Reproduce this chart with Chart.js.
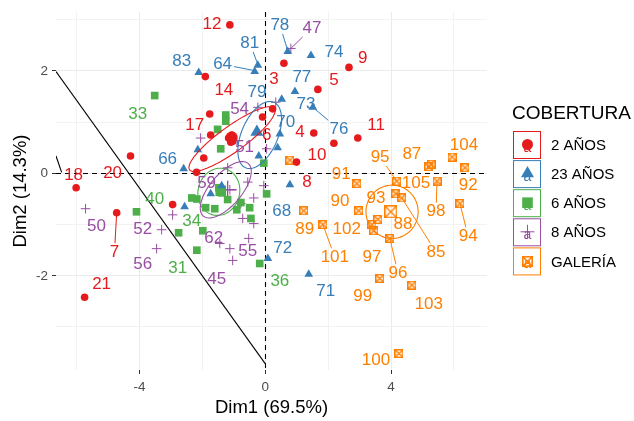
<!DOCTYPE html>
<html>
<head>
<meta charset="utf-8">
<script src="https://cdn.jsdelivr.net/npm/chart.js@4.4.1/dist/chart.umd.min.js"></script>
<style>
  html, body { margin: 0; padding: 0; background: #fff; }
  #wrap { width: 634px; height: 421px; }
</style>
</head>
<body>
<div id="wrap"><canvas id="pca" width="634" height="421"></canvas></div>
<script>
// Grupos (leyenda COBERTURA)
const grupos = ['2 AÑOS', '23 AÑOS', '6 AÑOS', '8 AÑOS', 'GALERÍA'];

// Coordenadas de los individuos [Dim1, Dim2]
const anos2 = [[-1.13,2.90],[-1.91,1.89],[-1.77,1.16],[-1.74,0.75],[-1.17,0.69],[-1.07,0.75],[-1.04,0.63],[-1.10,0.61],
  [-0.09,1.10],[-1.96,0.30],[-2.19,0.02],[-4.29,0.34],[0.59,2.15],[2.66,2.07],[1.67,1.64],[0.23,1.26],[1.54,0.79],
  [2.18,0.59],[2.94,0.69],[0.99,0.22],[-6.02,-0.28],[-4.73,-0.77],[-5.75,-2.42],[-2.95,-0.61]];
const anos23 = [[-2.12,1.97],[-0.24,2.11],[-0.34,1.99],[-0.27,0.81],[-2.15,0.46],[-2.60,0.09],[-0.21,0.34],[0.71,2.38],
  [1.45,2.30],[0.94,1.60],[0.52,1.45],[1.51,1.29],[0.46,0.77],[0.39,0.50],[-2.57,-0.65],[-1.74,-0.40],[-1.39,-0.24],
  [0.78,-0.22],[0.08,-1.66],[1.38,-1.97]];
const anos6 = [[-3.52,1.52],[-1.26,1.14],[-1.26,1.02],[-1.52,0.86],[-1.42,0.48],[-0.05,0.20],[-4.10,-0.75],[-2.76,-1.16],
  [-1.99,-1.12],[-2.18,-1.50],[-2.34,-0.48],[-2.18,-0.50],[-1.90,-0.67],[-1.61,-0.69],[-1.48,-0.28],[-1.39,-0.38],
  [-1.20,-0.51],[-0.91,-0.71],[-0.78,-0.57],[-0.50,-0.67],[-0.46,-0.88],[-0.18,-1.76],[0.04,-0.40]];
const anos8 = [[0.81,2.44],[-2.06,0.69],[-0.24,1.29],[0.33,1.39],[0.04,0.48],[-1.20,0.11],[-0.56,-0.17],[-0.05,-0.24],
  [-1.13,-0.32],[-0.37,-0.48],[-0.78,-0.59],[-0.72,-0.88],[-0.37,-0.98],[-0.53,-1.27],[-1.45,-1.37],[-1.13,-1.47],
  [-1.04,-1.70],[-5.72,-0.69],[-2.95,-0.81],[-3.30,-1.10],[-3.46,-1.47]];
const galeria = [[0.78,0.26],[5.20,0.13],[5.27,0.18],[5.94,0.32],[6.35,0.11],[2.91,-0.20],[2.97,-0.73],[1.22,-0.73],
  [1.83,-1.00],[4.18,-0.15],[4.15,-0.40],[4.34,-0.48],[3.58,-0.90],[3.39,-1.00],[3.45,-1.12],[3.96,-1.27],[5.46,-0.15],
  [6.19,-0.59],[3.64,-2.05],[4.66,-2.18],[4.25,-3.52]];

// Centros de grupo (puntos grandes)
const medias = [[-1.07,0.70],[-0.27,0.81],[-1.42,-0.34],[-1.20,-0.32],[3.99,-0.75]];

// Elipses de concentración: centro, semieje 1, semieje 2 (en unidades Dim)
const elipses = [
  [[-1.06,0.67],[1.35,0.60],[0.24,-0.20]],
  [[-0.18,0.75],[0.45,0.64],[0.53,-0.14]],
  [[-1.48,-0.36],[0.19,0.45],[0.64,-0.10]],
  [[-1.26,-0.32],[0.70,0.52],[0.41,-0.18]],
  [[4.03,-0.75],[0.83,0.00],[0.00,0.52]]
];

// Etiquetas: [texto, x, y, (x,y del punto si tiene línea guía)]
const etiq2 = [['12',-1.70,2.92],['14',-1.32,1.62],['17',-2.25,0.94],['20',-4.86,0.01],['18',-6.10,-0.03],
  ['3',0.27,1.83],['9',3.10,2.24],['5',2.18,1.82],['4',1.10,0.81],['10',1.64,0.36],['11',3.52,0.94],
  ['6',0.04,0.75],['8',1.32,-0.18],['7',-4.80,-1.54,-4.73,-0.77],['21',-5.21,-2.17]];
const etiq23 = [['83',-2.66,2.18],['81',-0.50,2.55,-0.24,2.13],['64',-1.36,2.13,-0.37,2.01],['79',-0.27,1.58],
  ['66',-3.11,0.28],['78',0.46,2.90,0.71,2.40],['74',2.18,2.36],['77',1.16,1.87],['73',1.29,1.35],['70',0.65,1.00],
  ['76',2.34,0.86,1.51,1.29],['68',0.52,-0.75],['72',0.55,-1.47],['71',1.92,-2.30]];
const etiq6 = [['33',-4.06,1.16],['40',-3.52,-0.50],['34',-2.34,-0.94],['31',-2.79,-1.85],['36',0.46,-2.11]];
const etiq8 = [['54',-0.82,1.25],['51',-0.66,0.51],['47',1.48,2.84,0.81,2.44],['59',-1.87,-0.20],['50',-5.37,-1.04],
  ['52',-3.90,-1.10],['56',-3.90,-1.78],['62',-1.64,-1.27],['55',-0.56,-1.52],['45',-1.55,-2.07]];
const etiqGal = [['91',2.41,-0.01],['95',3.65,0.32,4.18,-0.15],['87',4.66,0.38],['104',6.32,0.55],['105',4.79,-0.20],
  ['92',6.45,-0.24],['93',3.52,-0.48],['90',2.37,-0.55],['102',2.59,-1.10],['89',1.25,-1.10],['88',4.38,-1.00],
  ['98',5.43,-0.75,5.46,-0.15],['94',6.45,-1.23,6.19,-0.59],['101',2.21,-1.64,1.83,-1.00],['97',3.39,-1.64],
  ['85',5.43,-1.54,4.34,-0.48],['96',4.22,-1.95,3.96,-1.27],['99',3.10,-2.40],['103',5.20,-2.55],['100',3.52,-3.66]];

// Líneas negras
const linea1 = [[-6.66,1.99],[0,-3.72]];
const linea2 = [[-6.66,0.34],[-6.48,0.02]];

const xTicks = [-6, -4, -2, 0, 2, 4, 6];
const yTicks = [-3, -2, -1, 0, 1, 2, 3];

const FONT = "'Liberation Sans', Arial, Helvetica, sans-serif";
const colores = ['#E41A1C', '#377EB8', '#4DAF4A', '#984EA3', '#FF7F00'];

// símbolo cuadrado con aspa para GALERÍA
function cuadroAspa(size, color, lw) {
  const c = document.createElement('canvas');
  c.width = size; c.height = size;
  const g = c.getContext('2d');
  g.strokeStyle = color; g.lineWidth = lw;
  const h = lw / 2;
  g.strokeRect(h, h, size - lw, size - lw);
  g.beginPath();
  g.moveTo(h, h); g.lineTo(size - h, size - h);
  g.moveTo(size - h, h); g.lineTo(h, size - h);
  g.stroke();
  return c;
}

const estilos = [
  { pointStyle: 'circle', radius: 3.8, mr: 6, bw: 0 },
  { pointStyle: 'triangle', radius: 5, mr: 7.5, bw: 0 },
  { pointStyle: 'rect', radius: 5.4, mr: 7.5, bw: 0 },
  { pointStyle: 'cross', radius: 4.8, mr: 9, bw: 1 },
  { pointStyle: cuadroAspa(9, colores[4], 1.4), radius: 4.5, mr: 7, bw: 1, big: cuadroAspa(13, colores[4], 1.4) }
];

const series = [anos2, anos23, anos6, anos8, galeria];
const etiquetas = [etiq2, etiq23, etiq6, etiq8, etiqGal];
const toXY = arr => arr.map(p => ({ x: p[0], y: p[1] }));

const datasets = [];
series.forEach((s, i) => {
  const st = estilos[i];
  datasets.push({
    label: grupos[i],
    data: toXY(s),
    pointStyle: st.pointStyle,
    pointRadius: st.radius,
    backgroundColor: colores[i],
    borderColor: colores[i],
    borderWidth: st.bw
  });
});
medias.forEach((m, i) => {
  const st = estilos[i];
  datasets.push({
    label: 'media ' + grupos[i],
    data: toXY([m]),
    pointStyle: st.big || st.pointStyle,
    pointRadius: st.mr,
    backgroundColor: colores[i],
    borderColor: colores[i],
    borderWidth: i === 3 ? 1.3 : st.bw
  });
});
[linea1, linea2].forEach(l => {
  datasets.push({
    data: toXY(l),
    showLine: true,
    borderColor: '#000',
    borderWidth: 1.1,
    pointRadius: 0
  });
});

const extras = {
  id: 'extras',
  beforeDatasetsDraw(chart) {
    const { ctx, chartArea: a, scales: { x, y } } = chart;
    ctx.save();
    ctx.strokeStyle = '#000';
    ctx.lineWidth = 1.1;
    ctx.setLineDash([5, 4]);
    const x0 = Math.round(x.getPixelForValue(0)) + 0.5;
    const y0 = Math.round(y.getPixelForValue(0)) + 0.5;
    ctx.beginPath();
    ctx.moveTo(a.left, y0); ctx.lineTo(a.right, y0);
    ctx.moveTo(x0, a.top); ctx.lineTo(x0, a.bottom);
    ctx.stroke();
    ctx.restore();
  },
  afterDatasetsDraw(chart) {
    const { ctx, scales: { x, y } } = chart;
    ctx.save();
    // elipses
    elipses.forEach((e, i) => {
      ctx.strokeStyle = colores[i];
      ctx.lineWidth = 1.1;
      ctx.beginPath();
      for (let k = 0; k <= 80; k++) {
        const t = k / 80 * Math.PI * 2;
        const vx = e[0][0] + Math.cos(t) * e[1][0] + Math.sin(t) * e[2][0];
        const vy = e[0][1] + Math.cos(t) * e[1][1] + Math.sin(t) * e[2][1];
        const px = x.getPixelForValue(vx), py = y.getPixelForValue(vy);
        if (k === 0) ctx.moveTo(px, py); else ctx.lineTo(px, py);
      }
      ctx.stroke();
    });
    // etiquetas y líneas guía
    ctx.font = '17px ' + FONT;
    ctx.textAlign = 'center';
    ctx.textBaseline = 'middle';
    etiquetas.forEach((lst, i) => {
      ctx.fillStyle = colores[i];
      ctx.strokeStyle = colores[i];
      ctx.lineWidth = 1;
      lst.forEach(l => {
        const lx = x.getPixelForValue(l[1]), ly = y.getPixelForValue(l[2]);
        if (l.length > 3) {
          const px = x.getPixelForValue(l[3]), py = y.getPixelForValue(l[4]);
          const hw = ctx.measureText(l[0]).width / 2 + 2, hh = 9;
          const dx = lx - px, dy = ly - py;
          // recortar al borde de la caja de texto
          let s = 1;
          if (Math.abs(dx) > 0) s = Math.min(s, Math.abs((Math.abs(dx) - hw) / dx));
          if (Math.abs(dy) > 0) s = Math.max(Math.min(1, Math.abs((Math.abs(dy) - hh) / dy)), Math.abs(dx) > hw ? 0 : 0);
          const sx = Math.abs(dx) > hw ? (Math.abs(dx) - hw) / Math.abs(dx) : 0;
          const sy = Math.abs(dy) > hh ? (Math.abs(dy) - hh) / Math.abs(dy) : 0;
          s = Math.max(sx, sy);
          ctx.beginPath();
          ctx.moveTo(px, py);
          ctx.lineTo(px + dx * s, py + dy * s);
          ctx.stroke();
        }
        ctx.fillText(l[0], lx, ly);
      });
    });
    ctx.restore();
  },
  afterDraw(chart) {
    const ctx = chart.ctx;
    ctx.save();
    ctx.fillStyle = '#000';
    ctx.font = '19px ' + FONT;
    ctx.textAlign = 'left';
    ctx.textBaseline = 'middle';
    ctx.fillText('COBERTURA', 512, 114);
    grupos.forEach((g, i) => {
      const top = 131 + i * 29.1;
      ctx.fillStyle = '#fff';
      ctx.fillRect(513, top, 28, 28);
      ctx.strokeStyle = colores[i];
      ctx.lineWidth = 1;
      ctx.strokeRect(513.5, top + 0.5, 27, 27);
      ctx.fillStyle = colores[i];
      ctx.font = '14px ' + FONT;
      ctx.textAlign = 'center';
      ctx.fillText('a', 527.5, top + 17);
      const st = estilos[i];
      if (i === 4) {
        const img = cuadroAspa(11, colores[4], 1.6);
        ctx.drawImage(img, 527.5 - 5.5, top + 14 - 5.5);
      } else {
        ctx.strokeStyle = colores[i];
        Chart.helpers.drawPoint(ctx, { pointStyle: st.pointStyle, rotation: 0, radius: [5.5, 7.5, 7.5, 7][i], borderWidth: i === 3 ? 1.3 : 0 }, 527.5, top + 13.5);
      }
      ctx.fillStyle = '#000';
      ctx.font = '15px ' + FONT;
      ctx.textAlign = 'left';
      ctx.fillText(g, 551, top + 15);
    });
    ctx.restore();
  }
};

new Chart(document.getElementById('pca'), {
  type: 'scatter',
  data: { datasets },
  plugins: [extras],
  options: {
    responsive: false,
    animation: false,
    devicePixelRatio: 1,
    layout: { padding: { left: 0, right: 147, top: 8, bottom: 0 } },
    plugins: { legend: { display: false }, tooltip: { enabled: false } },
    scales: {
      x: {
        type: 'linear',
        min: -6.66, max: 7.05,
        afterBuildTicks: s => { s.ticks = xTicks.map(v => ({ value: v })); },
        afterFit: s => { s.height = 51; },
        ticks: {
          callback: v => (v % 4 === 0 ? String(v) : ''),
          color: '#4D4D4D', font: { family: FONT, size: 13.5 }, padding: 5, maxRotation: 0, autoSkip: false
        },
        grid: {
          color: c => (c.tick && c.tick.value % 4 === 0 ? '#EBEBEB' : '#F2F2F2'),
          tickColor: c => (c.tick && c.tick.value % 4 === 0 ? '#333' : 'rgba(0,0,0,0)'),
          tickLength: 4, lineWidth: 1
        },
        border: { display: false },
        title: { display: true, text: 'Dim1 (69.5%)', color: '#000', font: { family: FONT, size: 18.5 }, padding: { top: 0, bottom: 2 } }
      },
      y: {
        type: 'linear',
        min: -3.84, max: 3.15,
        afterBuildTicks: s => { s.ticks = yTicks.map(v => ({ value: v })); },
        afterFit: s => { s.width = 56; },
        ticks: {
          callback: v => (v % 2 === 0 ? String(v) : ''),
          color: '#4D4D4D', font: { family: FONT, size: 13.5 }, padding: 4, autoSkip: false
        },
        grid: {
          color: c => (c.tick && c.tick.value % 2 === 0 ? '#EBEBEB' : '#F2F2F2'),
          tickColor: c => (c.tick && c.tick.value % 2 === 0 ? '#333' : 'rgba(0,0,0,0)'),
          tickLength: 4, lineWidth: 1
        },
        border: { display: false },
        title: { display: true, text: 'Dim2 (14.3%)', color: '#000', font: { family: FONT, size: 18.5 }, padding: { top: 10, bottom: 0 } }
      }
    }
  }
});
</script>
</body>
</html>
